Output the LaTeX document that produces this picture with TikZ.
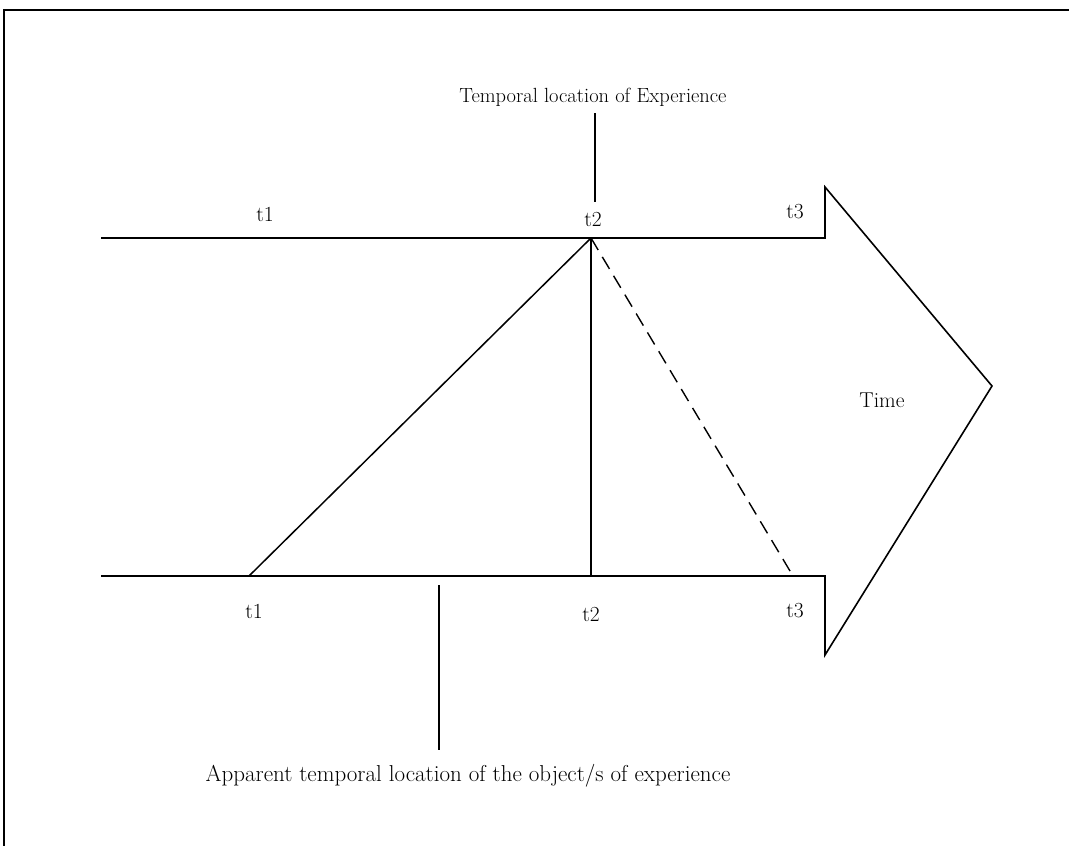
\documentclass[tikz,border=0pt]{standalone}
\usepackage{fontspec}
\setmainfont{Latin Modern Roman}
\begin{document}
\begin{tikzpicture}[x=1pt,y=-1pt,
  lbl/.style={font=\fontsize{21.5}{24}\selectfont, inner sep=0pt, anchor=center},
  edge/.style={line width=1.6pt, line join=miter},
  thin/.style={line width=1.5pt},
  dashedge/.style={line width=1.4pt, dash pattern=on 14pt off 8pt}]
\useasboundingbox (0,0) rectangle (1069,846);
% frame (top and left only, as cropped)
\draw[line width=2pt] (3.5,846) -- (3.5,9.5) -- (1069,9.5);
% key points
\coordinate (A1) at (101,238);
\coordinate (E2) at (591,238);
\coordinate (A3) at (825,238);
\coordinate (Pt) at (825,187);
\coordinate (Tip) at (992,386);
\coordinate (Pb) at (825,655);
\coordinate (B3) at (825,576);
\coordinate (B1) at (101,576);
\coordinate (O1) at (249,576);
\coordinate (O2) at (591,576);
\coordinate (O3) at (793,576);
% time arrow outline
\draw[edge] (A1) -- (A3) -- (Pt) -- (Tip) -- (Pb) -- (B3) -- (B1);
% connections
\draw[thin] (E2) -- (O1);
\draw[thin] (E2) -- (O2);
\draw[dashedge] (E2) -- (O3);
% labels
\node[lbl, font=\fontsize{20.5}{24}\selectfont] (title) at (593,97) {Temporal location of Experience};
\coordinate (tl1) at (595,113);
\coordinate (tl2) at (595,202);
\draw[line width=2pt] (tl1) -- (tl2);
\node[lbl] (ta1) at (265,214) {t1};
\node[lbl] (ta2) at (593,219) {t2};
\node[lbl] (ta3) at (795,212) {t3};
\node[lbl] (tb1) at (254,611) {t1};
\node[lbl] (tb2) at (591,614) {t2};
\node[lbl] (tb3) at (795,611) {t3};
\node[lbl] (time) at (882,400) {Time};
\node[lbl, font=\fontsize{23}{26}\selectfont] (app) at (468,776) {Apparent temporal location of the object/s of experience};
\coordinate (al1) at (439,585);
\coordinate (al2) at (439,750);
\draw[line width=2pt] (al1) -- (al2);
\end{tikzpicture}
\end{document}
